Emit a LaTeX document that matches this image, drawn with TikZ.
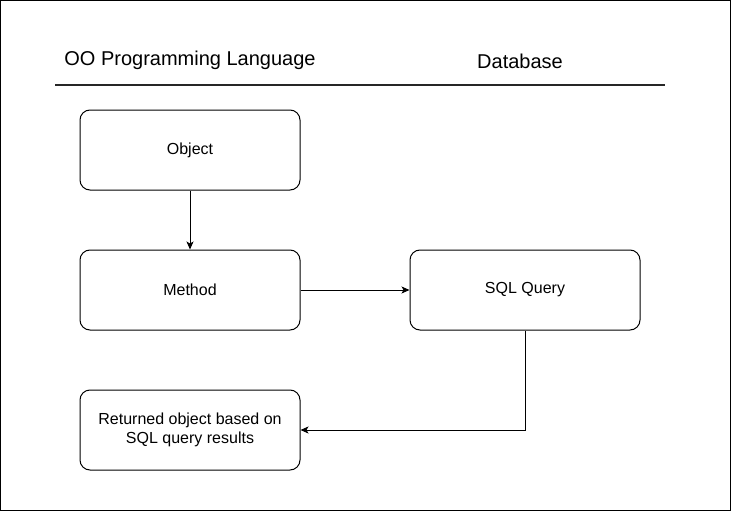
\documentclass[tikz,border=0pt]{standalone}
\usepackage{fontspec}
\setmainfont{Liberation Sans}
\usetikzlibrary{arrows.meta}
\begin{document}
\begin{tikzpicture}[x=1pt,y=-1pt,
  box/.style={draw=black,line width=1pt,rounded corners=10pt,minimum width=220pt,minimum height=80pt,inner sep=0pt,align=center,font=\fontsize{16}{19}\selectfont},
  title/.style={font=\fontsize{20}{24}\selectfont,inner sep=0pt},
  conn/.style={draw=black,line width=1pt,-{Stealth[length=8pt,width=7pt,inset=2pt]}}]
\useasboundingbox (0,0) rectangle (731,511);
\draw[line width=1pt] (0.5,0.5) rectangle (730.5,510.5);
\node[title] (t1) at (190,60) {OO Programming Language};
\node[title] (t2) at (520,61) {Database};
\coordinate (l1) at (55,85);
\coordinate (l2) at (665,85);
\draw[line width=2pt,color=black!85] (l1) -- (l2);
\node[box] (obj) at (190,150) {\raisebox{-1.5pt}{Object}};
\node[box] (meth) at (190,290) {Method};
\node[box,minimum width=230pt] (sql) at (525,290) {\raisebox{-1.5pt}{SQL Query}};
\node[box] (ret) at (190,430) {Returned object based on\\SQL query results};
\draw[conn] (obj) -- (meth);
\draw[conn] (meth) -- (sql);
\draw[conn] (sql.south) |- (ret.east);
\end{tikzpicture}
\end{document}
